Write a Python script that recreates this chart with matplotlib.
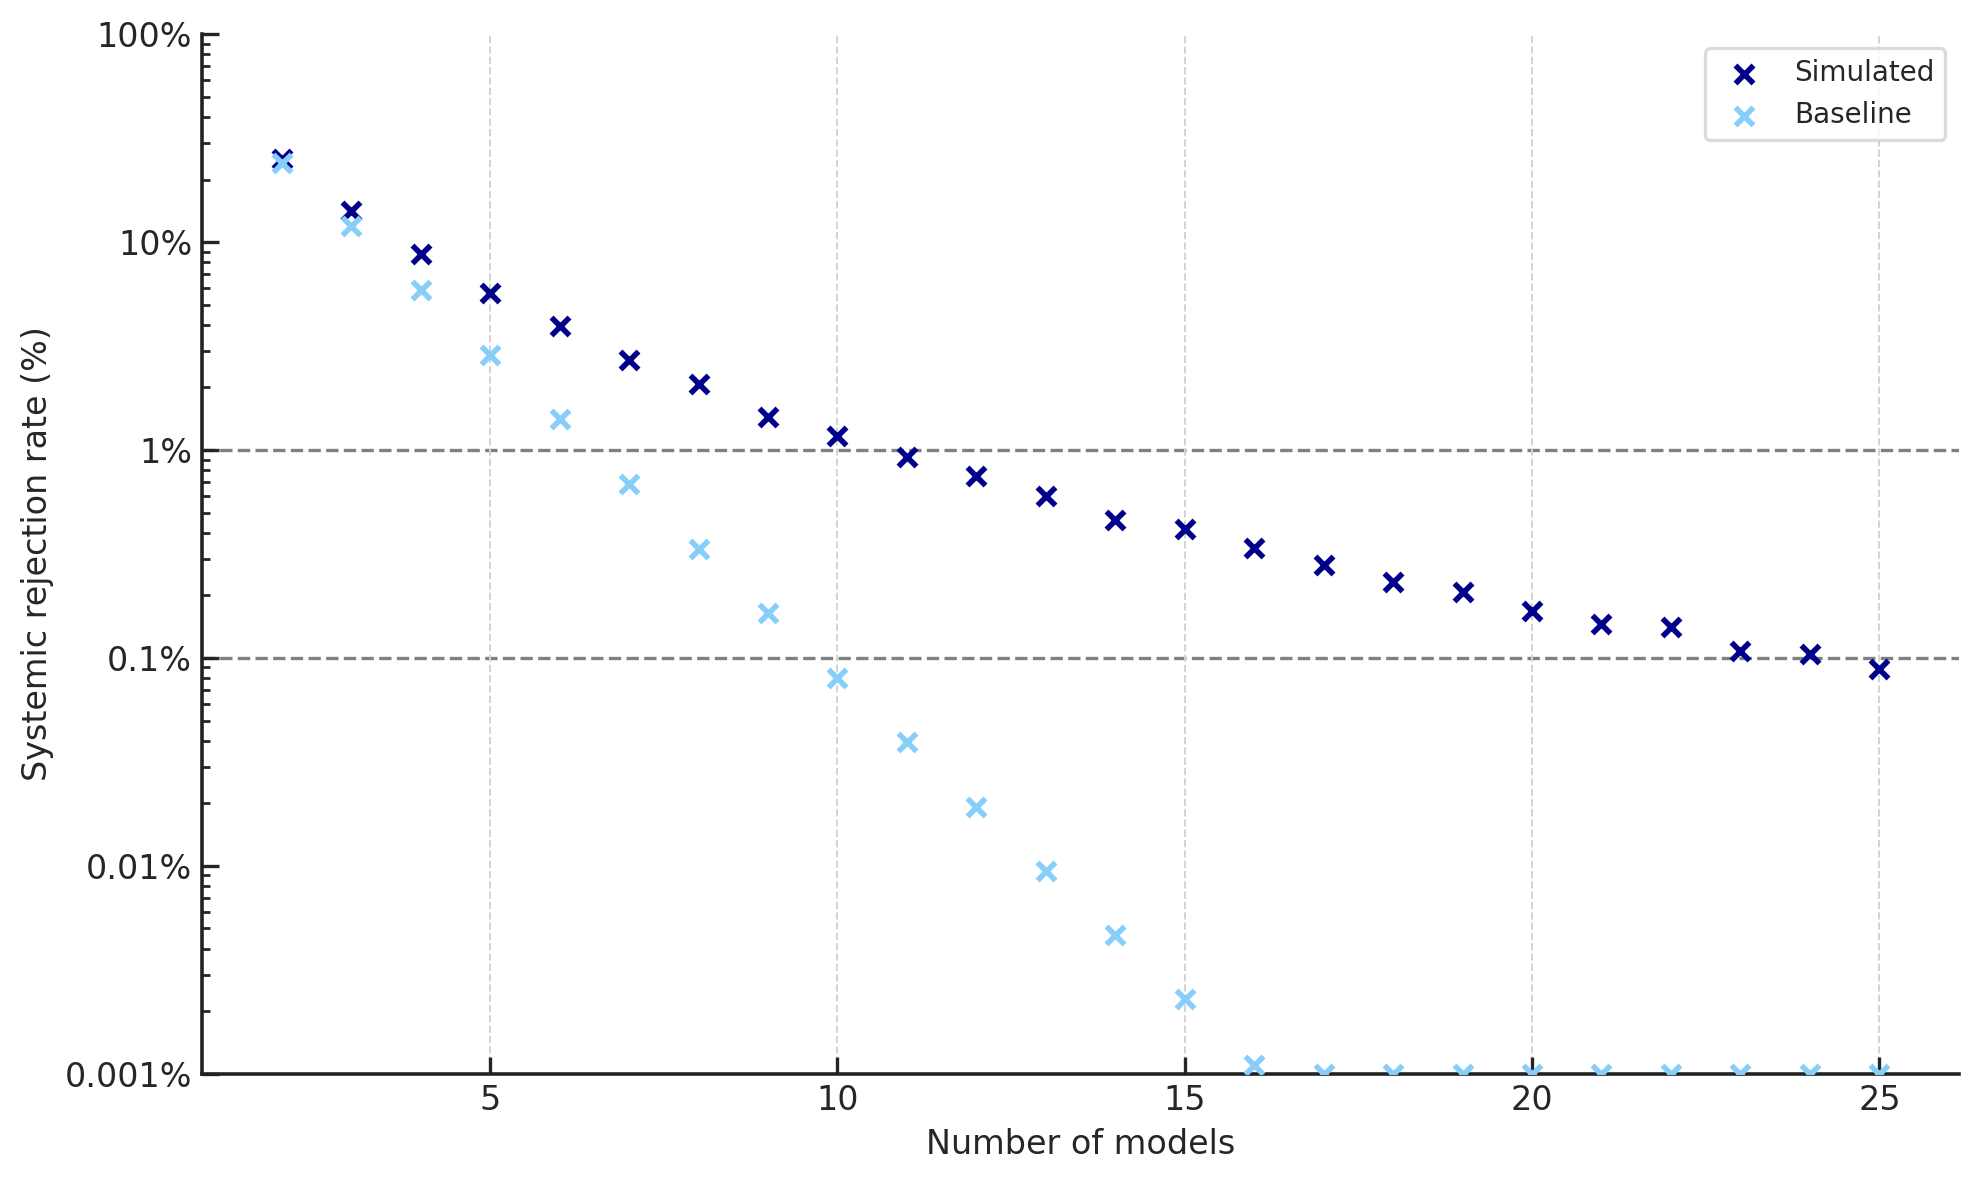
import numpy as np
from matplotlib import pyplot as plt
from matplotlib.ticker import FuncFormatter, LogLocator, MultipleLocator

n_models = list(range(2, 26))
simulated = [25.0, 14.1, 8.8, 5.7, 3.97, 2.72, 2.08, 1.45, 1.17, 0.927, 0.75, 0.60,
             0.46, 0.418, 0.339, 0.279, 0.233, 0.208, 0.169, 0.145, 0.141, 0.108,
             0.105, 0.0888]
baseline = [24.0, 12.0, 5.9, 2.88, 1.41, 0.69, 0.334, 0.164, 0.080, 0.0394, 0.0193,
            0.0095, 0.00465, 0.00228, 0.0011, 0.001, 0.001, 0.001, 0.001, 0.001,
            0.001, 0.001, 0.001, 0.001]
ref_levels = [1.0, 0.1]

plt.rcParams['font.family'] = 'DejaVu Sans'
plt.rcParams['text.color'] = '#262626'
plt.rcParams['axes.labelcolor'] = '#262626'
plt.rcParams['xtick.color'] = '#262626'
plt.rcParams['ytick.color'] = '#262626'

fig = plt.figure(figsize=(1979 / 200, 1180 / 200), dpi=200)
ax = fig.add_axes([0.102, 0.090, 0.888, 0.881])

ax.scatter(n_models, simulated, marker='x', color='darkblue', s=42, linewidths=2,
           label='Simulated', zorder=3)
ax.scatter(n_models, baseline, marker='x', color='lightskyblue', s=42, linewidths=2,
           label='Baseline', zorder=3)

for lvl in ref_levels:
    ax.axhline(lvl, color='gray', linestyle='--', linewidth=1.2, zorder=1)

ax.set_yscale('log')
ax.set_ylim(0.001, 100)
ax.margins(x=0.05)
ax.xaxis.set_major_locator(MultipleLocator(5))
ax.yaxis.set_major_locator(LogLocator(base=10))
ax.yaxis.set_major_formatter(FuncFormatter(lambda v, p: '{:g}%'.format(v)))

ax.grid(axis='x', color='lightgray', linestyle='--', linewidth=0.7)
ax.grid(axis='y', visible=False, which='both')

for side in ['top', 'right']:
    ax.spines[side].set_visible(False)
for side in ['left', 'bottom']:
    ax.spines[side].set_linewidth(1.3)
    ax.spines[side].set_color('#222222')

ax.tick_params(axis='both', which='major', direction='in', length=6, width=1.2,
               labelsize=12)
ax.tick_params(axis='y', which='minor', direction='in', length=3, width=1)

ax.set_xlabel('Number of models', fontsize=12)
ax.set_ylabel('Systemic rejection rate (%)', fontsize=12)

leg = ax.legend(loc='upper right', fontsize=10, frameon=True, edgecolor='lightgray',
                fancybox=True)
leg.get_frame().set_linewidth(1.2)

fig.savefig('out.png', dpi=200)
